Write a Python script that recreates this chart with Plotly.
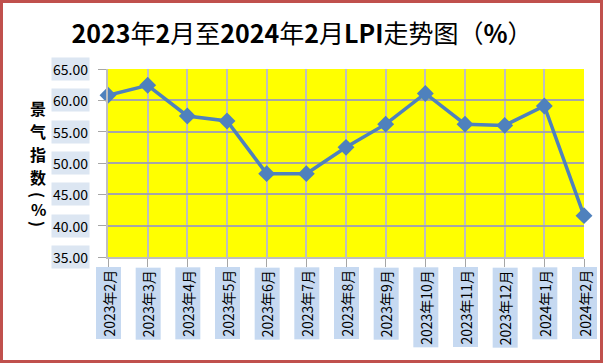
import re
import plotly.graph_objects as go

months = ["2023年2月", "2023年3月", "2023年4月", "2023年5月", "2023年6月", "2023年7月",
          "2023年8月", "2023年9月", "2023年10月", "2023年11月", "2023年12月", "2024年1月", "2024年2月"]
lpi = [60.8, 62.4, 57.5, 56.7, 48.3, 48.3, 52.5, 56.2, 61.1, 56.2, 56.0, 59.1, 41.6]
y_ticks = [35, 40, 45, 50, 55, 60, 65]
y_tick_labels = ["35.00", "40.00", "45.00", "50.00", "55.00", "60.00", "65.00"]

title_text = "2023年2月至2024年2月LPI走势图（%）"
# vertical axis title: character, rotation (parentheses are turned sideways)
y_title_chars = ["景", "气", "指", "数", "(", "%", ")"]
y_title_angles = [0, 0, 0, 0, 90, 0, 90]
y_title_px = [108, 131, 154, 177, 195, 209, 224]   # pixel rows of each glyph centre

FONT = "Noto Sans CJK SC"
LINE_COLOR = "#4F81BD"
GRID = "#BFBFBF"
W, H = 604, 364
M_L, M_R, M_T, M_B = 108, 20, 69, 107
plot_h = H - M_T - M_B

title_markup = re.sub(r"([0-9A-Za-z%]+)", r"<b>\1</b>", title_text)

fig = go.Figure()
fig.add_trace(go.Scatter(
    x=months, y=lpi, mode="lines+markers",
    line=dict(color=LINE_COLOR, width=3.5),
    marker=dict(symbol="diamond", size=13, color=LINE_COLOR),
    cliponaxis=False, showlegend=False, hoverinfo="x+y",
))

annotations = []
for m in months:
    annotations.append(dict(
        x=m, xref="x", y=0, yref="paper", yshift=-10,
        text=m, textangle=-90, showarrow=False,
        xanchor="center", yanchor="top",
        bgcolor="#C6D9F1", borderpad=2,
        font=dict(family=FONT, size=14, color="#000000"),
    ))
for v, lab in zip(y_ticks, y_tick_labels):
    annotations.append(dict(
        x=0, xref="paper", xshift=-18, y=v, yref="y",
        text=lab, showarrow=False, xanchor="right", yanchor="middle",
        bgcolor="#DCE6F2", borderpad=1,
        font=dict(family=FONT, size=14, color="#000000"),
    ))
for ch, ang, py in zip(y_title_chars, y_title_angles, y_title_px):
    annotations.append(dict(
        x=0, xref="paper", xshift=-70, y=(H - M_B - py) / plot_h, yref="paper",
        text="<b>" + ch + "</b>", textangle=ang, showarrow=False,
        xanchor="center", yanchor="middle",
        font=dict(family=FONT, size=16, color="#000000"),
    ))

fig.update_layout(
    width=W, height=H,
    margin=dict(l=M_L, r=M_R, t=M_T, b=M_B),
    paper_bgcolor="#FFFFFF", plot_bgcolor="#FFFF00",
    title=dict(text=title_markup, x=0.5, xanchor="center",
               y=0.905, yanchor="middle",
               font=dict(family=FONT, size=25, color="#000000")),
    xaxis=dict(type="category", range=[0, len(months) - 1],
               showgrid=True, gridcolor=GRID, gridwidth=1.5,
               showline=True, linecolor=GRID, linewidth=1.5,
               ticks="outside", ticklen=8, tickcolor="#A6A6A6",
               showticklabels=False, zeroline=False),
    yaxis=dict(range=[35, 65], tickvals=y_ticks,
               showgrid=True, gridcolor="#A6A6A6", gridwidth=1.5,
               showline=True, linecolor=GRID, linewidth=1.5,
               ticks="outside", ticklen=8, tickcolor="#A6A6A6",
               showticklabels=False, zeroline=False),
    annotations=annotations,
    shapes=[dict(type="rect", xref="paper", yref="paper",
                 xsizemode="pixel", ysizemode="pixel", xanchor=0, yanchor=0,
                 x0=-106.5, x1=493.5, y0=-104.5, y1=255.5,
                 line=dict(color="#C0504D", width=3), fillcolor="rgba(0,0,0,0)",
                 layer="above")],
)

fig.write_html("out.html", config={"displayModeBar": False},
               post_script="document.body.style.margin='0';document.body.style.overflow='hidden';")
